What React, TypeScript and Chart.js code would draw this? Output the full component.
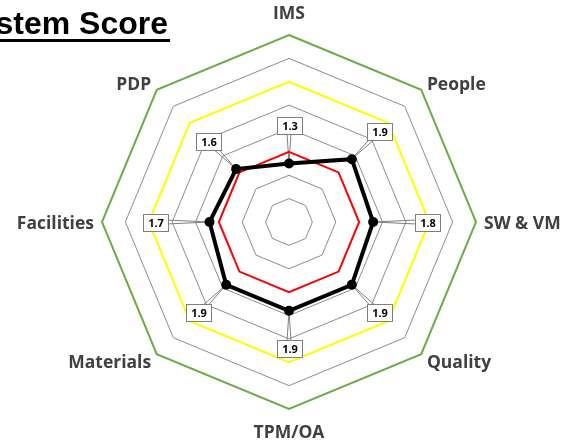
import React, { useEffect, useRef } from "react";
import { Chart, registerables } from "chart.js";

Chart.register(...registerables);

const categories = ["IMS", "People", "SW & VM", "Quality", "TPM/OA", "Materials", "Facilities", "PDP"];
const scoreValues = [1.25, 1.9, 1.8, 1.9, 1.9, 1.9, 1.7, 1.6];
const redLevel = [1.5, 1.5, 1.5, 1.5, 1.5, 1.5, 1.5, 1.5];
const yellowLevel = [3, 3, 3, 3, 3, 3, 3, 3];
const greenLevel = [4, 4, 4, 4, 4, 4, 4, 4];
const scaleMin = 0;
const scaleMax = 4;
const scaleStep = 0.5;
const titleText = "System Score";

const W = 582;
const H = 444;

const decorPlugin = {
  id: "decor",
  beforeDatasetsDraw(chart: any) {
    const ctx = chart.ctx;
    const scale = chart.scales.r;
    const meta = chart.getDatasetMeta(0);
    ctx.save();
    ctx.strokeStyle = "#7f7f7f";
    ctx.lineWidth = 1;
    meta.data.forEach((pt: any, i: number) => {
      const edge = scale.getPointPosition(i, scale.drawingArea);
      const dx = (edge.x - scale.xCenter) / scale.drawingArea;
      const dy = (edge.y - scale.yCenter) / scale.drawingArea;
      const D = 38 + 16 * Math.pow(Math.abs(dx), 8);
      const cx = pt.x + dx * D;
      const cy = pt.y + dy * D;
      const px = -dy, py = dx;
      ctx.beginPath();
      ctx.moveTo(cx + px * 2.5, cy + py * 2.5);
      ctx.lineTo(pt.x, pt.y);
      ctx.lineTo(cx - px * 2.5, cy - py * 2.5);
      ctx.stroke();
    });
    ctx.restore();
  },
  afterDatasetsDraw(chart: any) {
    const ctx = chart.ctx;
    const scale = chart.scales.r;
    const meta = chart.getDatasetMeta(0);
    ctx.save();
    ctx.font = "bold 11px 'Open Sans'";
    ctx.textAlign = "center";
    ctx.textBaseline = "middle";
    meta.data.forEach((pt: any, i: number) => {
      const text = scoreValues[i].toFixed(1);
      const edge = scale.getPointPosition(i, scale.drawingArea);
      const dx = (edge.x - scale.xCenter) / scale.drawingArea;
      const dy = (edge.y - scale.yCenter) / scale.drawingArea;
      const D = 38 + 16 * Math.pow(Math.abs(dx), 8);
      const cx = pt.x + dx * D;
      const cy = pt.y + dy * D;
      const w = Math.max(23, Math.round(ctx.measureText(text).width + 9));
      const h = 17;
      const x0 = Math.round(cx - w / 2) + 0.5;
      const y0 = Math.round(cy - h / 2) + 0.5;
      ctx.fillStyle = "#ffffff";
      ctx.fillRect(x0, y0, w, h);
      ctx.strokeStyle = "#7f7f7f";
      ctx.lineWidth = 1;
      ctx.strokeRect(x0, y0, w, h);
      ctx.fillStyle = "#000000";
      ctx.fillText(text, x0 + w / 2, y0 + h / 2 + 0.5);
    });
    ctx.restore();
  },
  afterDraw(chart: any) {
    const ctx = chart.ctx;
    const scale = chart.scales.r;
    ctx.save();
    // axis labels
    ctx.font = "bold 17.5px 'Open Sans'";
    ctx.fillStyle = "#404040";
    const capHalf = 6.3;
    categories.forEach((label, i) => {
      const a = scale.getPointPosition(i, scale.drawingArea + 8);
      const dx = a.x - scale.xCenter;
      const dy = a.y - scale.yCenter;
      ctx.textBaseline = "alphabetic";
      if (Math.abs(dx) < 1) {
        ctx.textAlign = "center";
        if (dy < 0) {
          ctx.fillText(label, a.x, a.y - 8);
        } else {
          ctx.fillText(label, a.x, a.y + 8 + capHalf * 2);
        }
      } else {
        ctx.textAlign = dx > 0 ? "left" : "right";
        let capCenter = a.y;
        if (Math.abs(dy) < 1) capCenter = a.y + 1;
        else capCenter = a.y + (dy < 0 ? 0 : 2);
        ctx.fillText(label, a.x, capCenter + capHalf);
      }
    });
    // title (cut off at left edge)
    ctx.font = "bold 32px 'Liberation Sans', Arial, sans-serif";
    ctx.fillStyle = "#000000";
    ctx.textAlign = "right";
    ctx.textBaseline = "alphabetic";
    const right = 168;
    ctx.fillText(titleText, right, 34);
    const tw = ctx.measureText(titleText).width;
    ctx.fillRect(right - tw, 39, tw + 2, 3);
    ctx.restore();
  },
};

export default function App() {
  const ref = useRef<HTMLCanvasElement | null>(null);
  useEffect(() => {
    if (!ref.current) return;
    const chart = new Chart(ref.current, {
      type: "radar",
      data: {
        labels: categories,
        datasets: [
          {
            label: "Score",
            data: scoreValues,
            borderColor: "#000000",
            backgroundColor: "#000000",
            borderWidth: 4,
            pointRadius: 5,
            pointBackgroundColor: "#000000",
            pointBorderColor: "#000000",
            pointBorderWidth: 0,
            fill: false,
          },
          {
            label: "Red",
            data: redLevel,
            borderColor: "#ff0000",
            borderWidth: 2,
            pointRadius: 0,
            fill: false,
          },
          {
            label: "Yellow",
            data: yellowLevel,
            borderColor: "#ffff00",
            borderWidth: 2,
            pointRadius: 0,
            fill: false,
          },
          {
            label: "Green",
            data: greenLevel,
            borderColor: "#70ad47",
            borderWidth: 2,
            pointRadius: 0,
            fill: false,
          },
        ],
      },
      options: {
        responsive: false,
        animation: false,
        layout: { padding: { top: 35, bottom: 35, left: 102, right: 106 } },
        plugins: {
          legend: { display: false },
          title: { display: false },
          tooltip: { enabled: false },
        },
        elements: { line: { tension: 0 } },
        scales: {
          r: {
            min: scaleMin,
            max: scaleMax,
            ticks: { display: false, stepSize: scaleStep },
            grid: { color: "#8c8c8c", lineWidth: 1 },
            angleLines: { display: false },
            pointLabels: { display: false },
          },
        },
      },
      plugins: [decorPlugin],
    });
    return () => chart.destroy();
  }, []);
  return (
    <div style={{ position: "fixed", left: 0, top: 0, width: W, height: H, background: "#ffffff" }}>
      <canvas ref={ref} width={W} height={H} style={{ width: W, height: H, display: "block" }} />
    </div>
  );
}
